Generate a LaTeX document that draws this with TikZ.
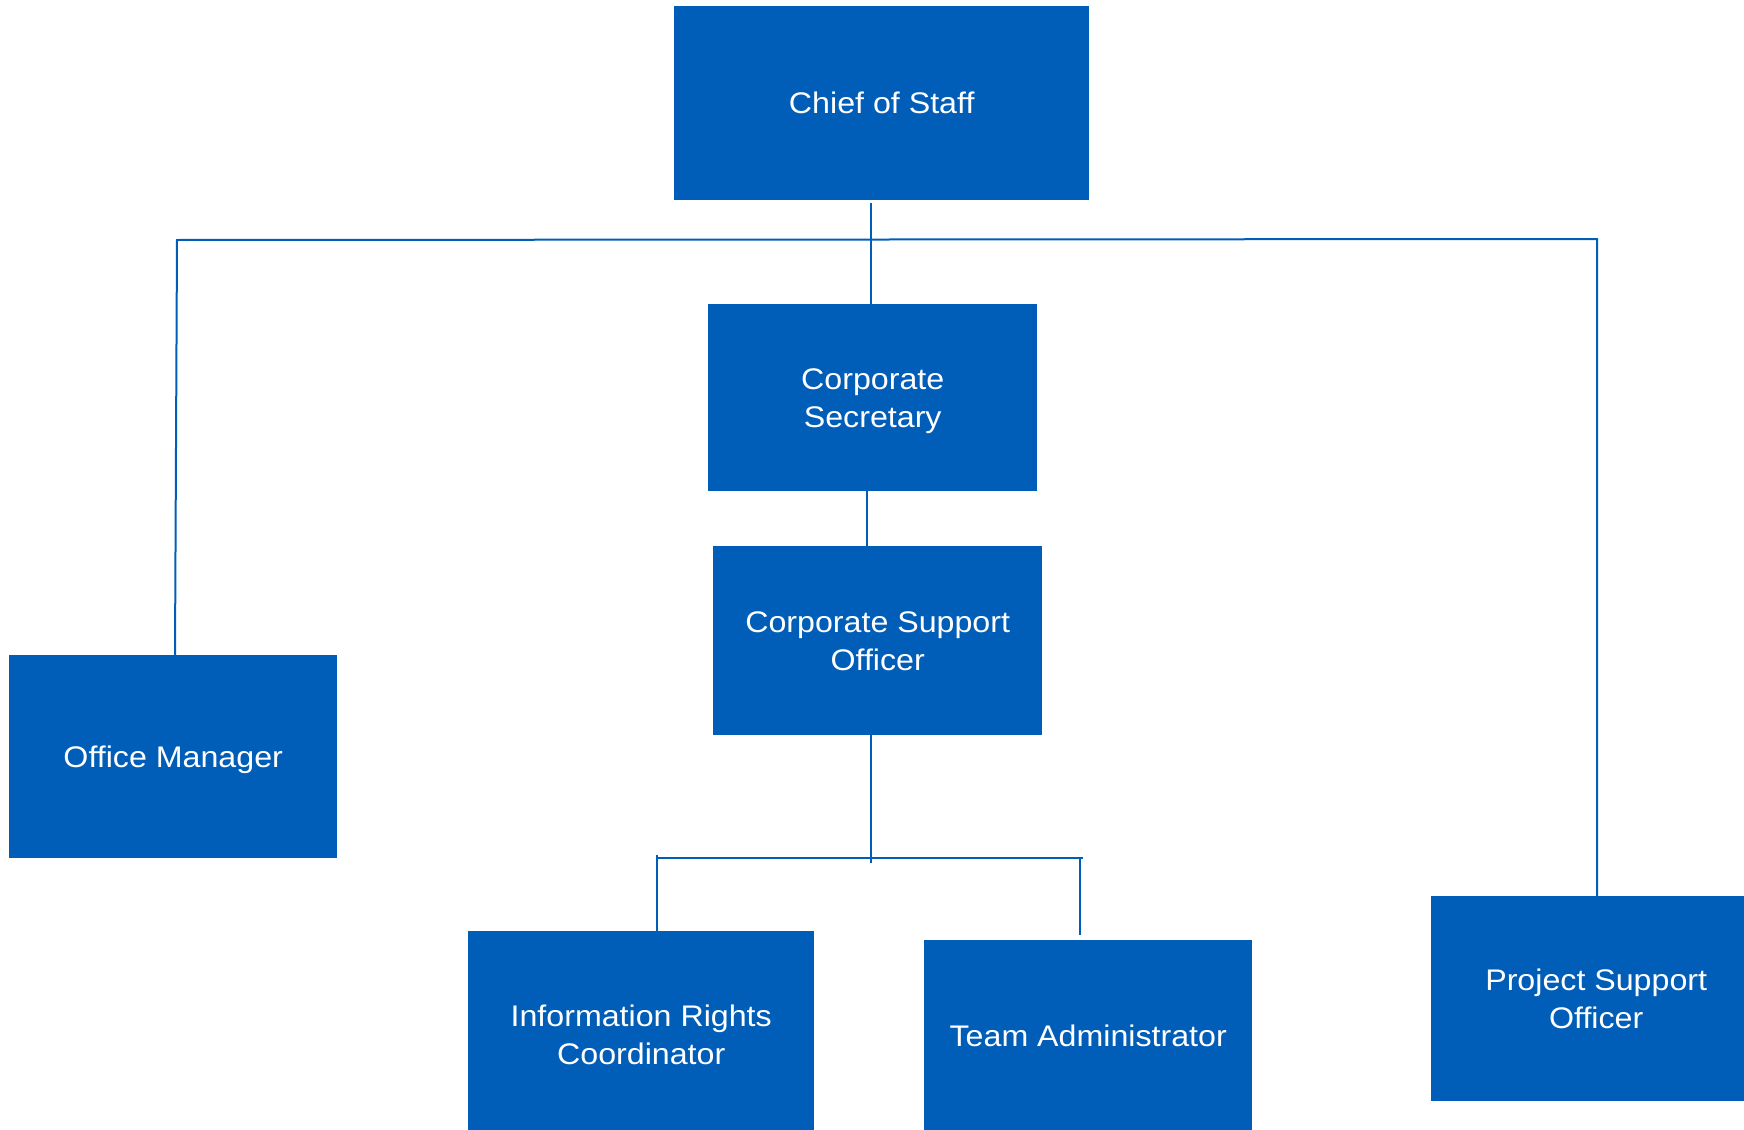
\documentclass[tikz,border=0pt]{standalone}
\usepackage{fontspec}
\newfontfamily\boxfont[FakeStretch=1.08]{Liberation Sans}
\definecolor{nhsblue}{RGB}{0,94,184}
\begin{document}
\begin{tikzpicture}[x=1pt,y=-1pt,
  box/.style={fill=nhsblue, text=white, inner sep=0pt, anchor=north west, align=center,
    font={\boxfont\fontsize{29.8}{38}\selectfont}, text height=21.3pt, text depth=0pt},
  twoline/.style={text height=59.3pt, text depth=0pt},
  conn/.style={draw=nhsblue, line width=2pt}]
\useasboundingbox (0,0) rectangle (1744,1129);
\node[box, minimum width=415pt, minimum height=194pt] (chief) at (674,6) {Chief of Staff};
\node[box, twoline, minimum width=329pt, minimum height=187pt] (cs) at (708,304) {Corporate\\Secretary};
\node[box, twoline, minimum width=329pt, minimum height=189pt] (cso) at (713,546) {Corporate Support\\Officer};
\node[box, minimum width=328pt, minimum height=203pt] (om) at (9,655) {Office Manager};
\node[box, twoline, minimum width=346pt, minimum height=207pt] (irc) at (468,931) {Information Rights\\Coordinator};
\node[box, minimum width=328pt, minimum height=191pt] (ta) at (924,940) {Team Administrator};
\node[box, twoline, minimum width=330pt, minimum height=205pt] (pso) at (1431,896) {Project Support\\Officer};
% junction coordinates
\coordinate (j1) at (871,240);
\coordinate (hl) at (177,240);
\coordinate (hr) at (1597,239);
\coordinate (c2) at (866.5,500);
\coordinate (j2) at (871,858);
\coordinate (j2end) at (871,863);
\coordinate (bl) at (657,858);
\coordinate (br) at (1083,858);
\coordinate (tr) at (1080,935);
% connectors
\draw[conn] (j1 |- chief.south) ++(0,3) -- (j1 |- cs.north);
\draw[conn] (om.north -| 175,0) -- (hl) -- (hr) -- (pso.north -| hr);
\draw[conn] (cs.south -| c2) -- (cso.north -| c2);
\draw[conn] (cso.south -| j2) -- (j2end);
\draw[conn] (bl) -- (br);
\draw[conn] (bl) ++(0,-3) -- (irc.north -| bl);
\draw[conn] (tr |- br) -- (tr);
\end{tikzpicture}
\end{document}
